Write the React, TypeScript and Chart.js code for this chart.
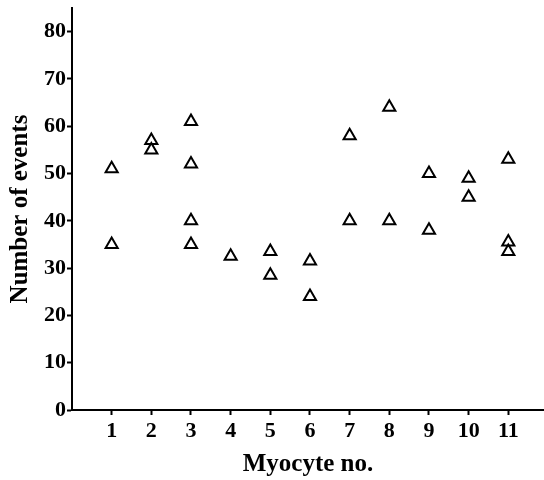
import React, { useEffect, useRef } from "react";
import { Chart, registerables } from "chart.js";

Chart.register(...registerables);

const myocytes = [1, 1, 2, 2, 3, 3, 3, 3, 4, 5, 5, 6, 6, 7, 7, 8, 8, 9, 9, 10, 10, 11, 11, 11];
const events = [51, 35, 57, 55, 61, 52, 40, 35, 32.5, 33.5, 28.5, 31.5, 24, 58, 40, 64, 40, 50, 38, 49, 45, 53, 35.5, 33.5];
const xTicks = [1, 2, 3, 4, 5, 6, 7, 8, 9, 10, 11];
const yTicks = [0, 10, 20, 30, 40, 50, 60, 70, 80];

export default function App() {
  const ref = useRef<HTMLCanvasElement | null>(null);
  useEffect(() => {
    if (!ref.current) return;
    const family = "'Liberation Serif', 'Times New Roman', serif";
    const tickFont = { family, weight: "bold" as const, size: 22 };
    const titleFont = { family, weight: "bold" as const, size: 25 };
    const chart = new Chart(ref.current, {
      type: "scatter",
      data: {
        datasets: [
          {
            data: myocytes.map((x, i) => ({ x, y: events[i] })),
            pointStyle: "triangle",
            pointRadius: 7,
            pointBorderWidth: 2,
            pointBorderColor: "#000",
            pointBackgroundColor: "rgba(255,255,255,0)",
            showLine: false,
          },
        ],
      },
      options: {
        animation: false,
        responsive: false,
        maintainAspectRatio: false,
        layout: { autoPadding: false, padding: { left: 0, right: 0, top: 8, bottom: 0 } },
        plugins: { legend: { display: false }, tooltip: { enabled: false } },
        scales: {
          x: {
            type: "linear",
            min: 0,
            max: 11.9,
            afterBuildTicks: (s: any) => {
              s.ticks = xTicks.map((v) => ({ value: v }));
            },
            afterFit: (s: any) => {
              s.height = 70;
              s.paddingRight = 0;
              s.paddingLeft = 0;
            },
            ticks: { color: "#000", font: tickFont, padding: 3, maxRotation: 0, autoSkip: false, callback: (v: any) => String(v) },
            grid: { display: true, drawOnChartArea: false, drawTicks: true, tickLength: 5, tickWidth: 2, tickColor: "#000", color: "#000" },
            border: { display: true, color: "#000", width: 2 },
            title: { display: true, text: "Myocyte no.", color: "#000", font: titleFont, padding: { top: 0, bottom: 0 } },
          },
          y: {
            type: "linear",
            min: 0,
            max: 85,
            afterBuildTicks: (s: any) => {
              s.ticks = yTicks.map((v) => ({ value: v }));
            },
            afterFit: (s: any) => {
              s.width = 72;
              s.paddingTop = 0;
              s.paddingBottom = 0;
            },
            ticks: { color: "#000", font: tickFont, padding: 1, autoSkip: false, callback: (v: any) => String(v) },
            grid: { display: true, drawOnChartArea: false, drawTicks: true, tickLength: 5, tickWidth: 2, tickColor: "#000", color: "#000" },
            border: { display: true, color: "#000", width: 2 },
            title: { display: true, text: "Number of events", color: "#000", font: titleFont, padding: { top: 6, bottom: 0 } },
          },
        },
      },
    });
    return () => chart.destroy();
  }, []);
  return (
    <div style={{ position: "fixed", left: 0, top: 0, width: 544, height: 480, background: "#fff" }}>
      <canvas ref={ref} width={544} height={480} style={{ width: 544, height: 480 }} />
    </div>
  );
}
